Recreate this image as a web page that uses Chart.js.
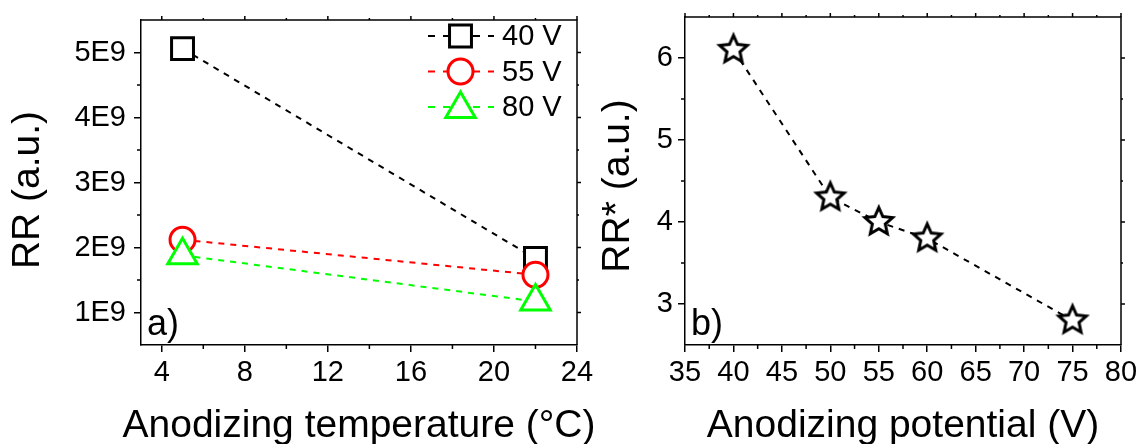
<!DOCTYPE html>
<html>
<head>
<meta charset="utf-8">
<script src="https://cdn.jsdelivr.net/npm/chart.js@4/dist/chart.umd.min.js"></script>
<style>
html,body{margin:0;padding:0;background:#fff;}
#wrap{position:relative;width:1138px;height:444px;overflow:hidden;background:#fff;}
#c1{position:absolute;left:0;top:0;}
#c2{position:absolute;left:590px;top:0;}
</style>
</head>
<body>
<div id="wrap">
<canvas id="c1" width="600" height="444"></canvas>
<canvas id="c2" width="548" height="444"></canvas>
</div>
<script>
// ---------- data ----------
const tempCategories = [5, 22];
const seriesLabels = ['40 V', '55 V', '80 V'];
const rr40 = [5.06e9, 1.83e9];
const rr55 = [2.12e9, 1.58e9];
const rr80 = [1.88e9, 1.17e9];
const tempTicks = [4, 8, 12, 16, 20, 24];
const tempMinor = [6, 10, 14, 18, 22];
const rrTicks = [1e9, 2e9, 3e9, 4e9, 5e9];
const rrMinor = [1.5e9, 2.5e9, 3.5e9, 4.5e9];

const potentials = [40, 50, 55, 60, 75];
const rrStar = [6.1, 4.3, 4.0, 3.8, 2.8];
const potTicks = [35, 40, 45, 50, 55, 60, 65, 70, 75, 80];
const potMinor = [37.5, 42.5, 47.5, 52.5, 57.5, 62.5, 67.5, 72.5, 77.5];
const rrStarTicks = [3, 4, 5, 6];
const rrStarMinor = [3.5, 4.5, 5.5];

// ---------- setup ----------
const FONT = "'Liberation Sans', Arial, sans-serif";
Chart.defaults.font.family = FONT;
Chart.defaults.color = '#000';

function makeStar() {
  const c = document.createElement('canvas');
  c.width = 40; c.height = 40;
  const g = c.getContext('2d');
  const R = 14.5, r = 6.8;
  g.beginPath();
  for (let i = 0; i < 10; i++) {
    const a = -Math.PI / 2 + i * Math.PI / 5;
    const rr = i % 2 ? r : R;
    g.lineTo(20 + rr * Math.cos(a), 20 + rr * Math.sin(a));
  }
  g.closePath();
  g.fillStyle = '#fff'; g.fill();
  g.lineWidth = 3; g.lineJoin = 'miter'; g.strokeStyle = '#000'; g.stroke();
  return c;
}

function drawMarker(ctx, style, x, y, r, color) {
  ctx.save();
  ctx.beginPath();
  if (style === 'rect') {
    const s = r / Math.SQRT2;
    ctx.rect(x - s, y - s, 2 * s, 2 * s);
  } else if (style === 'circle') {
    ctx.arc(x, y, r, 0, Math.PI * 2);
  } else if (style === 'triangle') {
    for (let k = 0; k < 3; k++) {
      const a = k * 2 * Math.PI / 3;
      ctx.lineTo(x + Math.sin(a) * r, y - Math.cos(a) * r);
    }
    ctx.closePath();
  }
  ctx.fillStyle = '#fff'; ctx.fill();
  ctx.lineWidth = 3; ctx.strokeStyle = color; ctx.stroke();
  ctx.restore();
}

function boxPlugin(minorX, minorY) {
  return {
    id: 'box',
    afterDraw(chart) {
      const {ctx, chartArea: {left, right, top, bottom}, scales: {x, y}} = chart;
      ctx.save();
      ctx.strokeStyle = '#000';
      ctx.lineWidth = 1.5;
      ctx.beginPath();
      ctx.moveTo(left, top); ctx.lineTo(right, top); ctx.lineTo(right, bottom);
      ctx.stroke();
      ctx.beginPath();
      minorX.forEach(v => { const p = x.getPixelForValue(v); ctx.moveTo(p, bottom); ctx.lineTo(p, bottom + 4); ctx.moveTo(p, top); ctx.lineTo(p, top - 2); });
      minorY.forEach(v => { const p = y.getPixelForValue(v); ctx.moveTo(left, p); ctx.lineTo(left - 4, p); ctx.moveTo(right, p); ctx.lineTo(right + 2, p); });
      x.ticks.forEach(t => { const p = x.getPixelForValue(t.value); ctx.moveTo(p, top); ctx.lineTo(p, top - 4); });
      y.ticks.forEach(t => { const p = y.getPixelForValue(t.value); ctx.moveTo(right, p); ctx.lineTo(right + 4, p); });
      ctx.stroke();
      ctx.restore();
    }
  };
}

function panelLabel(text) {
  return {
    id: 'panelLabel',
    afterDraw(chart) {
      const {ctx, chartArea: {left, bottom}} = chart;
      ctx.save();
      ctx.font = '36px ' + FONT;
      ctx.fillStyle = '#000';
      ctx.textBaseline = 'alphabetic';
      ctx.fillText(text, left + 6, bottom - 10);
      ctx.restore();
    }
  };
}

function axisTitles(xText, yText, yCenter, size) {
  return {
    id: 'axisTitles',
    afterDraw(chart) {
      const {ctx, chartArea: {left, right}} = chart;
      ctx.save();
      ctx.font = size + 'px ' + FONT;
      ctx.fillStyle = '#000';
      ctx.textAlign = 'center';
      ctx.textBaseline = 'alphabetic';
      ctx.fillText(xText, (left + right) / 2, 437);
      ctx.translate(28, yCenter);
      ctx.rotate(-Math.PI / 2);
      ctx.textBaseline = 'middle';
      ctx.fillText(yText, 0, 0);
      ctx.restore();
    }
  };
}

const legendPlugin = {
  id: 'customLegend',
  afterDraw(chart) {
    const ctx = chart.ctx;
    chart.data.datasets.forEach((ds, i) => {
      const yy = 36 + i * 35.5;
      ctx.save();
      ctx.strokeStyle = ds.borderColor;
      ctx.lineWidth = 2;
      ctx.setLineDash([7, 8]);
      ctx.beginPath();
      ctx.moveTo(428, yy); ctx.lineTo(494, yy);
      ctx.stroke();
      ctx.restore();
      drawMarker(ctx, ds.pointStyle, 460.5, ds.pointStyle === 'triangle' ? yy + 2 : yy, ds.pointRadius, ds.borderColor);
      ctx.save();
      ctx.font = '29px ' + FONT;
      ctx.fillStyle = '#000';
      ctx.textBaseline = 'middle';
      ctx.fillText(ds.label, 502, yy + 1);
      ctx.restore();
    });
  }
};

function axisCommon() {
  return {
    grid: {display: true, drawOnChartArea: false, drawTicks: true, tickLength: 7, color: '#000', lineWidth: 1.5},
    border: {display: true, color: '#000', width: 1.5}
  };
}

// ---------- chart a ----------
const colors = ['#000000', '#ff0000', '#00ff00'];
const styles = ['rect', 'circle', 'triangle'];
const radii = [15.5, 12.5, 17];
const seriesValues = [rr40, rr55, rr80];

new Chart(document.getElementById('c1'), {
  type: 'scatter',
  data: {
    datasets: seriesValues.map((vals, i) => ({
      label: seriesLabels[i],
      data: tempCategories.map((t, k) => ({x: t, y: vals[k]})),
      showLine: true,
      borderColor: colors[i],
      borderWidth: 2,
      borderDash: [6, 6],
      pointStyle: styles[i],
      pointRadius: radii[i],
      pointHoverRadius: radii[i],
      pointBorderWidth: 3,
      pointBorderColor: colors[i],
      pointBackgroundColor: '#fff',
      order: 3 - i
    }))
  },
  options: {
    responsive: false,
    devicePixelRatio: 1,
    animation: false,
    events: [],
    layout: {padding: {top: 15, right: 23, left: 0, bottom: 0}},
    plugins: {legend: {display: false}, tooltip: {enabled: false}},
    scales: {
      x: Object.assign(axisCommon(), {
        type: 'linear', min: 3, max: 24,
        afterBuildTicks: s => { s.ticks = tempTicks.map(v => ({value: v})); },
        afterFit: s => { s.height = 99; s.paddingLeft = 0; s.paddingRight = 0; },
        ticks: {font: {size: 29, lineHeight: 1.2}, padding: 4, maxRotation: 0, autoSkip: false}
      }),
      y: Object.assign(axisCommon(), {
        type: 'linear', min: 0.5e9, max: 5.5e9,
        afterBuildTicks: s => { s.ticks = rrTicks.map(v => ({value: v})); },
        afterFit: s => { s.width = 141; s.paddingTop = 0; s.paddingBottom = 0; },
        ticks: {font: {size: 29}, padding: 8, callback: v => (v / 1e9) + 'E9'}
      })
    }
  },
  plugins: [boxPlugin(tempMinor, rrMinor), panelLabel('a)'), legendPlugin,
            axisTitles('Anodizing temperature (°C)', 'RR (a.u.)', 190, 39)]
});

// ---------- chart b ----------
new Chart(document.getElementById('c2'), {
  type: 'scatter',
  data: {
    datasets: [{
      label: 'RR*',
      data: potentials.map((p, k) => ({x: p, y: rrStar[k]})),
      showLine: true,
      borderColor: '#000',
      borderWidth: 2,
      borderDash: [6, 6],
      pointStyle: makeStar(),
      pointRadius: 15,
      pointHoverRadius: 15
    }]
  },
  options: {
    responsive: false,
    devicePixelRatio: 1,
    animation: false,
    events: [],
    layout: {padding: {top: 15, right: 15, left: 0, bottom: 0}},
    plugins: {legend: {display: false}, tooltip: {enabled: false}},
    scales: {
      x: Object.assign(axisCommon(), {
        type: 'linear', min: 35, max: 80,
        afterBuildTicks: s => { s.ticks = potTicks.map(v => ({value: v})); },
        afterFit: s => { s.height = 99; s.paddingLeft = 0; s.paddingRight = 0; },
        ticks: {font: {size: 29, lineHeight: 1.2}, padding: 4, maxRotation: 0, autoSkip: false}
      }),
      y: Object.assign(axisCommon(), {
        type: 'linear', min: 2.5, max: 6.5,
        afterBuildTicks: s => { s.ticks = rrStarTicks.map(v => ({value: v})); },
        afterFit: s => { s.width = 95; s.paddingTop = 0; s.paddingBottom = 0; },
        ticks: {font: {size: 29}, padding: 5}
      })
    }
  },
  plugins: [boxPlugin(potMinor, rrStarMinor), panelLabel('b)'),
            axisTitles('Anodizing potential (V)', 'RR* (a.u.)', 186, 39)]
});
</script>
</body>
</html>
